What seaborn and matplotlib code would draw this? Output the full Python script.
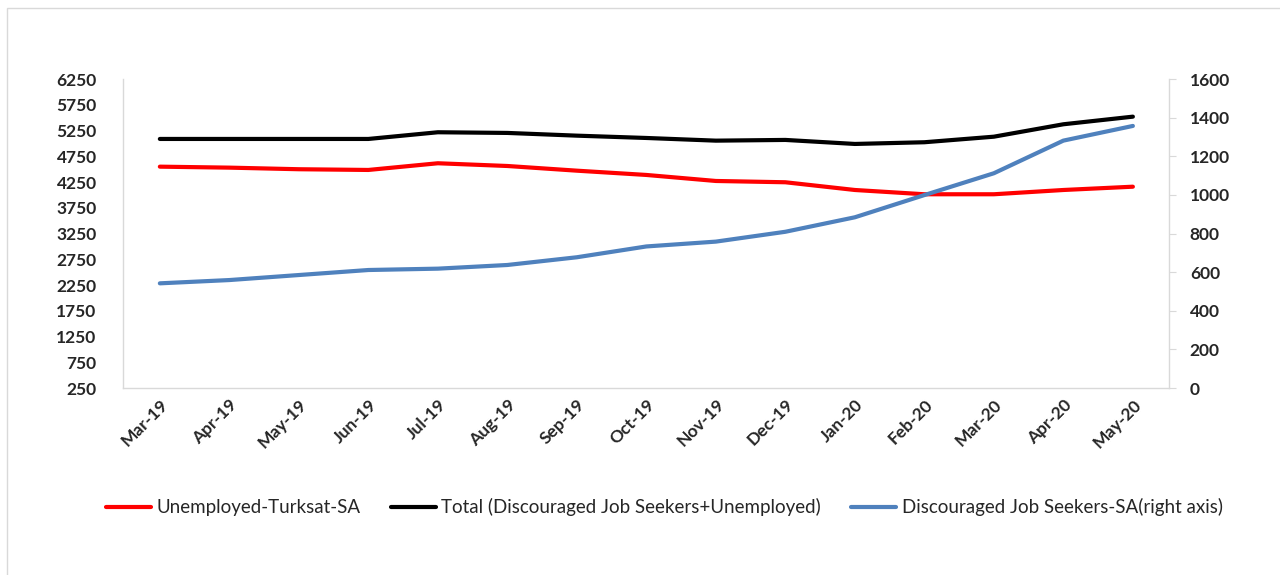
import matplotlib
matplotlib.use("Agg")
import matplotlib.pyplot as plt
import seaborn as sns
import pandas as pd
from matplotlib.patches import Rectangle

# Dados
meses = ["Mar-19", "Apr-19", "May-19", "Jun-19", "Jul-19", "Aug-19", "Sep-19", "Oct-19",
         "Nov-19", "Dec-19", "Jan-20", "Feb-20", "Mar-20", "Apr-20", "May-20"]
desempregados = [4548, 4529, 4498, 4484, 4614, 4561, 4470, 4387,
                 4270, 4245, 4095, 4012, 4012, 4095, 4159]
total = [5086, 5086, 5086, 5086, 5216, 5203, 5150, 5105,
         5053, 5067, 4989, 5022, 5130, 5371, 5519]
desalentados = [542, 559, 585, 611, 618, 637, 677, 733,
                758, 809, 884, 999, 1112, 1281, 1357]

df = pd.DataFrame({"mes": meses, "x": range(len(meses)),
                   "desempregados": desempregados, "total": total,
                   "desalentados": desalentados})

sns.set_style("white")
plt.rcParams["font.family"] = ["Lato", "DejaVu Sans"]

fig = plt.figure(figsize=(12.8, 5.75), dpi=100)
ax = fig.add_axes([0.0961, 0.3252, 0.8172, 0.5374])
ax2 = ax.twinx()

lw = 3.0
sns.lineplot(data=df, x="x", y="desempregados", ax=ax, color="#FF0000", lw=lw,
             solid_capstyle="round", label="Unemployed-Turksat-SA", legend=False)
sns.lineplot(data=df, x="x", y="total", ax=ax, color="#000000", lw=lw,
             solid_capstyle="round", label="Total (Discouraged Job Seekers+Unemployed)", legend=False)
sns.lineplot(data=df, x="x", y="desalentados", ax=ax2, color="#4F81BD", lw=lw,
             solid_capstyle="round", label="Discouraged Job Seekers-SA(right axis)", legend=False)

ax.set_xlim(-0.53, 14.52)
ax.set_ylim(250, 6250)
ax.set_yticks(range(250, 6251, 500))
ax2.set_ylim(0, 1600)
ax2.set_yticks(range(0, 1601, 200))
ax.set_xticks(df["x"])
ax.set_xticklabels(meses, rotation=45, ha="right", rotation_mode="anchor",
                   fontsize=12.5, fontweight="bold")
ax.set_xlabel("")
ax.set_ylabel("")
ax2.set_ylabel("")

for a in (ax, ax2):
    for s in a.spines.values():
        s.set_visible(False)
    a.grid(False)

ax.spines["left"].set_visible(True)
ax.spines["bottom"].set_visible(True)
ax2.spines["right"].set_visible(True)
for s in (ax.spines["left"], ax.spines["bottom"], ax2.spines["right"]):
    s.set_color("#D9D9D9")
    s.set_linewidth(1)

ax.tick_params(axis="y", length=0, pad=19, labelsize=12.5)
ax.tick_params(axis="x", length=0, pad=6)
ax2.tick_params(axis="y", length=5, color="#D9D9D9", direction="out", pad=10, labelsize=12.5)
for lab in ax.get_yticklabels() + ax2.get_yticklabels():
    lab.set_fontweight("bold")

h1, l1 = ax.get_legend_handles_labels()
h2, l2 = ax2.get_legend_handles_labels()
fig.legend(h1 + h2, l1 + l2, loc="center", bbox_to_anchor=(0.519, 0.118), ncol=3,
           frameon=False, fontsize=13.5, handlelength=2.4, handletextpad=0.3,
           columnspacing=1.6)

# moldura cinza clara
fig.patches.append(Rectangle((7 / 1280, -0.1), 1.2, 1 - 8 / 575 + 0.1,
                             transform=fig.transFigure, fill=False,
                             edgecolor="#D9D9D9", lw=1))

plt.savefig("out.png", dpi=100)
plt.close()
